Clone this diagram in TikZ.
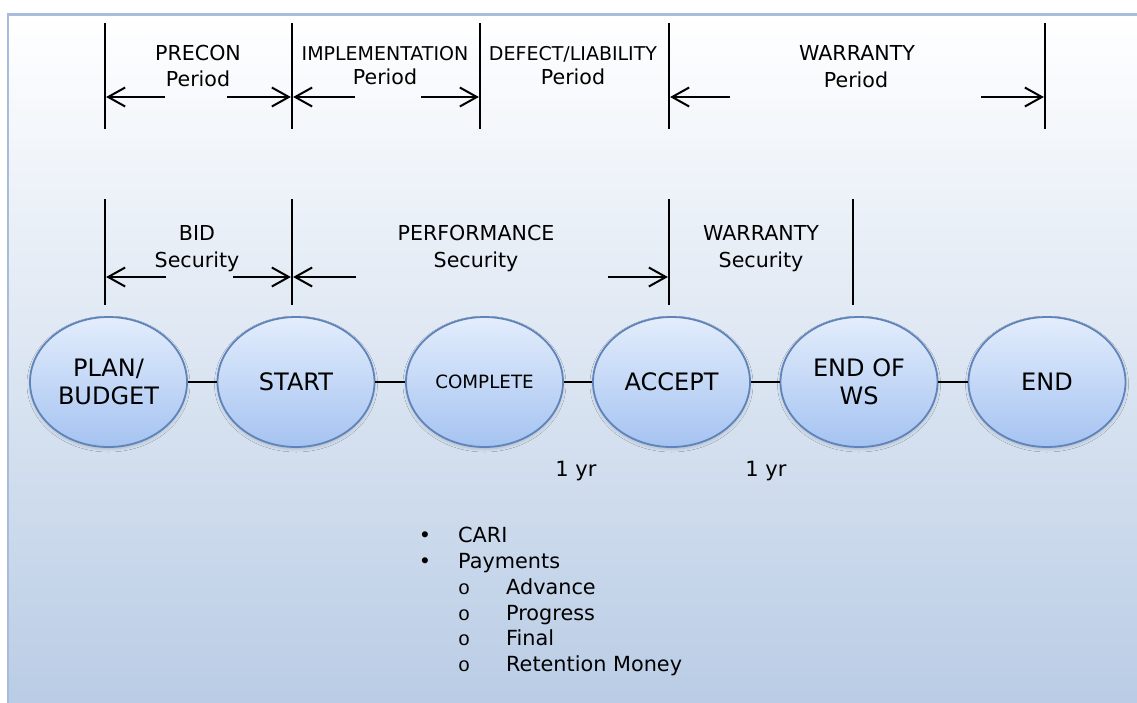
\documentclass[tikz,border=0pt]{standalone}
\usepackage{fontspec}
\setmainfont{DejaVu Sans}
\newfontfamily\bulletmono{Liberation Mono}
\usetikzlibrary{arrows.meta,shapes.geometric,shadows.blur}

\definecolor{framecol}{HTML}{A7BDDB}
\definecolor{bgbottom}{HTML}{B9CCE5}
\definecolor{elltop}{HTML}{E3EDFC}
\definecolor{ellbot}{HTML}{A5C3F1}
\definecolor{elledge}{HTML}{5E84BB}

\begin{document}
\begin{tikzpicture}[x=1pt,y=-1pt,
  marker/.style={line width=2.3pt},
  span/.style={line width=2pt,shorten >=1.1pt,
    -{Straight Barb[length=17pt,width=19pt,line width=2pt]}},
  lab/.style={anchor=base,inner sep=0pt,font=\fontsize{20.6}{24}\selectfont},
  smalllab/.style={lab,font=\fontsize{19}{22}\selectfont},
  stage/.style={ellipse,draw=elledge,line width=1.8pt,
    top color=elltop,bottom color=ellbot,
    minimum width=157pt,minimum height=130pt,inner sep=0pt,
    align=center,font=\fontsize{24}{28}\selectfont,
    blur shadow={shadow xshift=0pt,shadow yshift=-2pt,
      shadow opacity=18,shadow blur steps=4,shadow blur radius=3pt}},
  link/.style={line width=2pt},
  itemtext/.style={anchor=base west,inner sep=0pt,font=\fontsize{20.8}{24}\selectfont},
  dot/.style={anchor=base,inner sep=0pt,font=\fontsize{20.8}{24}\selectfont},
  ring/.style={anchor=base,inner sep=0pt,font=\bulletmono\fontsize{20}{22}\selectfont}
]
\useasboundingbox (0,0) rectangle (1137,702);

% page background and framed gradient panel
\fill[white] (0,0) rectangle (1137,702);
\shade[top color=white,bottom color=bgbottom] (8,14.5) rectangle (1145,710);
\draw[framecol,line width=2.5pt] (8,14.5) rectangle (1145,710);

% period markers (upper row)
\foreach \n/\x in {1/105,2/292,3/480,4/669,5/1045}{
  \coordinate (ptop\n) at (\x,23);
  \coordinate (pbot\n) at (\x,129);
  \draw[marker] (ptop\n) -- (pbot\n);
}
% security markers (lower row)
\foreach \n/\x in {1/105,2/292,3/669,4/853}{
  \coordinate (stop\n) at (\x,199);
  \coordinate (sbot\n) at (\x,305);
  \draw[marker] (stop\n) -- (sbot\n);
}

% arrow tails
\coordinate (precL) at (165,97);
\coordinate (precR) at (227,97);
\coordinate (implL) at (355,97);
\coordinate (implR) at (421,97);
\coordinate (warrL) at (730,97);
\coordinate (warrR) at (981,97);
\coordinate (bidL) at (166,277);
\coordinate (bidR) at (233,277);
\coordinate (perfL) at (356,277);
\coordinate (perfR) at (608,277);

% span arrows
\draw[span] (precL) -- (ptop1 |- precL);
\draw[span] (precR) -- (ptop2 |- precR);
\draw[span] (implL) -- (ptop2 |- implL);
\draw[span] (implR) -- (ptop3 |- implR);
\draw[span] (warrL) -- (ptop4 |- warrL);
\draw[span] (warrR) -- (ptop5 |- warrR);
\draw[span] (bidL) -- (stop1 |- bidL);
\draw[span] (bidR) -- (stop2 |- bidR);
\draw[span] (perfL) -- (stop2 |- perfL);
\draw[span] (perfR) -- (stop3 |- perfR);

% period labels
\node[lab] (preconA) at (198,60.5) {PRECON};
\node[lab] (preconB) at (198,86.5) {Period};
\node[smalllab] (implA) at (385,60) {IMPLEMENTATION};
\node[lab] (implB) at (385,84.5) {Period};
\node[smalllab] (defA) at (573,60) {DEFECT/LIABILITY};
\node[lab] (defB) at (573,84.5) {Period};
\node[lab] (warA) at (857,60.5) {WARRANTY};
\node[lab] (warB) at (856,87.5) {Period};

% security labels
\node[lab] (bidA) at (197,240.5) {BID};
\node[lab] (bidB) at (197,267) {Security};
\node[lab] (perfA) at (476,240.5) {PERFORMANCE};
\node[lab] (perfB) at (476,267) {Security};
\node[lab] (wsecA) at (761,240.5) {WARRANTY};
\node[lab] (wsecB) at (761,267) {Security};

% project stages
\node[stage] (plan) at (108.5,382) {PLAN/\\BUDGET};
\node[stage] (start) at (296,382) {START};
\node[stage,font=\fontsize{18.3}{22}\selectfont] (complete) at (484.5,382) {COMPLETE};
\node[stage] (accept) at (671.5,382) {ACCEPT};
\node[stage] (endws) at (859,382) {END OF\\WS};
\node[stage] (finish) at (1047,382) {END};

\draw[link] (plan) -- (start);
\draw[link] (start) -- (complete);
\draw[link] (complete) -- (accept);
\draw[link] (accept) -- (endws);
\draw[link] (endws) -- (finish);

% durations
\node[lab,font=\fontsize{21}{24}\selectfont] (yrA) at (576,476) {1 yr};
\node[lab,font=\fontsize{21}{24}\selectfont] (yrB) at (766,476) {1 yr};

% activity list
\node[dot] (d1) at (425,542.6) {•};
\node[itemtext] (cari) at (458,542.6) {CARI};
\node[dot] (d2) at (425,568.4) {•};
\node[itemtext] (pay) at (458,568.4) {Payments};
\node[ring] (o1) at (464,594.2) {o};
\node[itemtext] (adv) at (506,594.2) {Advance};
\node[ring] (o2) at (464,620) {o};
\node[itemtext] (prog) at (506,620) {Progress};
\node[ring] (o3) at (464,645.8) {o};
\node[itemtext] (fin) at (506,645.8) {Final};
\node[ring] (o4) at (464,671.6) {o};
\node[itemtext] (ret) at (506,671.6) {Retention Money};
\end{tikzpicture}
\end{document}
